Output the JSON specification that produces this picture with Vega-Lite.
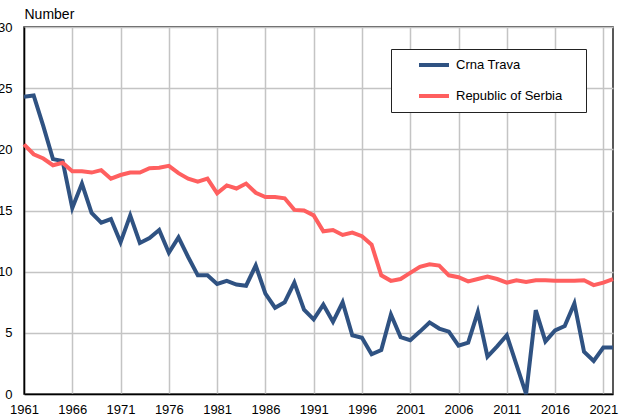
{
  "$schema": "https://vega.github.io/schema/vega-lite/v6.json",
  "width": 589,
  "height": 367,
  "autosize": {"type": "none"},
  "padding": {"left": 24, "top": 27, "right": 10, "bottom": 23},
  "background": "white",
  "config": {
    "font": "Liberation Sans",
    "view": {"stroke": "#222", "strokeWidth": 1.5},
    "axis": {"labelFont": "Liberation Sans", "titleFont": "Liberation Sans", "labelColor": "#000", "titleColor": "#000", "gridColor": "#c4c4c4", "gridWidth": 1.5, "domainColor": "#000", "domainWidth": 1.5, "ticks": false}
  },
  "data": {
    "values": [
      {"year": 1961, "series": "Crna Trava", "value": 24.3},
      {"year": 1962, "series": "Crna Trava", "value": 24.4},
      {"year": 1963, "series": "Crna Trava", "value": 21.9},
      {"year": 1964, "series": "Crna Trava", "value": 19.2},
      {"year": 1965, "series": "Crna Trava", "value": 19.05},
      {"year": 1966, "series": "Crna Trava", "value": 15.2},
      {"year": 1967, "series": "Crna Trava", "value": 17.2},
      {"year": 1968, "series": "Crna Trava", "value": 14.8},
      {"year": 1969, "series": "Crna Trava", "value": 14.0},
      {"year": 1970, "series": "Crna Trava", "value": 14.3},
      {"year": 1971, "series": "Crna Trava", "value": 12.4},
      {"year": 1972, "series": "Crna Trava", "value": 14.6},
      {"year": 1973, "series": "Crna Trava", "value": 12.35},
      {"year": 1974, "series": "Crna Trava", "value": 12.75},
      {"year": 1975, "series": "Crna Trava", "value": 13.4},
      {"year": 1976, "series": "Crna Trava", "value": 11.55},
      {"year": 1977, "series": "Crna Trava", "value": 12.8},
      {"year": 1978, "series": "Crna Trava", "value": 11.2},
      {"year": 1979, "series": "Crna Trava", "value": 9.7},
      {"year": 1980, "series": "Crna Trava", "value": 9.7},
      {"year": 1981, "series": "Crna Trava", "value": 9.0},
      {"year": 1982, "series": "Crna Trava", "value": 9.25},
      {"year": 1983, "series": "Crna Trava", "value": 8.95},
      {"year": 1984, "series": "Crna Trava", "value": 8.85},
      {"year": 1985, "series": "Crna Trava", "value": 10.5},
      {"year": 1986, "series": "Crna Trava", "value": 8.2},
      {"year": 1987, "series": "Crna Trava", "value": 7.05},
      {"year": 1988, "series": "Crna Trava", "value": 7.5},
      {"year": 1989, "series": "Crna Trava", "value": 9.1},
      {"year": 1990, "series": "Crna Trava", "value": 6.9},
      {"year": 1991, "series": "Crna Trava", "value": 6.1},
      {"year": 1992, "series": "Crna Trava", "value": 7.3},
      {"year": 1993, "series": "Crna Trava", "value": 5.9},
      {"year": 1994, "series": "Crna Trava", "value": 7.5},
      {"year": 1995, "series": "Crna Trava", "value": 4.8},
      {"year": 1996, "series": "Crna Trava", "value": 4.6},
      {"year": 1997, "series": "Crna Trava", "value": 3.25},
      {"year": 1998, "series": "Crna Trava", "value": 3.6},
      {"year": 1999, "series": "Crna Trava", "value": 6.5},
      {"year": 2000, "series": "Crna Trava", "value": 4.65},
      {"year": 2001, "series": "Crna Trava", "value": 4.4},
      {"year": 2002, "series": "Crna Trava", "value": 5.1},
      {"year": 2003, "series": "Crna Trava", "value": 5.85},
      {"year": 2004, "series": "Crna Trava", "value": 5.35},
      {"year": 2005, "series": "Crna Trava", "value": 5.1},
      {"year": 2006, "series": "Crna Trava", "value": 3.95},
      {"year": 2007, "series": "Crna Trava", "value": 4.2},
      {"year": 2008, "series": "Crna Trava", "value": 6.7},
      {"year": 2009, "series": "Crna Trava", "value": 3.05},
      {"year": 2010, "series": "Crna Trava", "value": 3.9},
      {"year": 2011, "series": "Crna Trava", "value": 4.8},
      {"year": 2012, "series": "Crna Trava", "value": 2.4},
      {"year": 2013, "series": "Crna Trava", "value": 0},
      {"year": 2014, "series": "Crna Trava", "value": 6.85},
      {"year": 2015, "series": "Crna Trava", "value": 4.3},
      {"year": 2016, "series": "Crna Trava", "value": 5.2},
      {"year": 2017, "series": "Crna Trava", "value": 5.55},
      {"year": 2018, "series": "Crna Trava", "value": 7.4},
      {"year": 2019, "series": "Crna Trava", "value": 3.45},
      {"year": 2020, "series": "Crna Trava", "value": 2.7},
      {"year": 2021, "series": "Crna Trava", "value": 3.8},
      {"year": 2022, "series": "Crna Trava", "value": 3.8},
      {"year": 1961, "series": "Republic of Serbia", "value": 20.4},
      {"year": 1962, "series": "Republic of Serbia", "value": 19.6},
      {"year": 1963, "series": "Republic of Serbia", "value": 19.25},
      {"year": 1964, "series": "Republic of Serbia", "value": 18.7},
      {"year": 1965, "series": "Republic of Serbia", "value": 18.9},
      {"year": 1966, "series": "Republic of Serbia", "value": 18.2},
      {"year": 1967, "series": "Republic of Serbia", "value": 18.2},
      {"year": 1968, "series": "Republic of Serbia", "value": 18.1},
      {"year": 1969, "series": "Republic of Serbia", "value": 18.3},
      {"year": 1970, "series": "Republic of Serbia", "value": 17.6},
      {"year": 1971, "series": "Republic of Serbia", "value": 17.9},
      {"year": 1972, "series": "Republic of Serbia", "value": 18.1},
      {"year": 1973, "series": "Republic of Serbia", "value": 18.1},
      {"year": 1974, "series": "Republic of Serbia", "value": 18.45},
      {"year": 1975, "series": "Republic of Serbia", "value": 18.5},
      {"year": 1976, "series": "Republic of Serbia", "value": 18.65},
      {"year": 1977, "series": "Republic of Serbia", "value": 18.05},
      {"year": 1978, "series": "Republic of Serbia", "value": 17.6},
      {"year": 1979, "series": "Republic of Serbia", "value": 17.35},
      {"year": 1980, "series": "Republic of Serbia", "value": 17.6},
      {"year": 1981, "series": "Republic of Serbia", "value": 16.4},
      {"year": 1982, "series": "Republic of Serbia", "value": 17.05},
      {"year": 1983, "series": "Republic of Serbia", "value": 16.8},
      {"year": 1984, "series": "Republic of Serbia", "value": 17.2},
      {"year": 1985, "series": "Republic of Serbia", "value": 16.45},
      {"year": 1986, "series": "Republic of Serbia", "value": 16.1},
      {"year": 1987, "series": "Republic of Serbia", "value": 16.1},
      {"year": 1988, "series": "Republic of Serbia", "value": 16.0},
      {"year": 1989, "series": "Republic of Serbia", "value": 15.05},
      {"year": 1990, "series": "Republic of Serbia", "value": 15.0},
      {"year": 1991, "series": "Republic of Serbia", "value": 14.6},
      {"year": 1992, "series": "Republic of Serbia", "value": 13.3},
      {"year": 1993, "series": "Republic of Serbia", "value": 13.4},
      {"year": 1994, "series": "Republic of Serbia", "value": 13.0},
      {"year": 1995, "series": "Republic of Serbia", "value": 13.2},
      {"year": 1996, "series": "Republic of Serbia", "value": 12.9},
      {"year": 1997, "series": "Republic of Serbia", "value": 12.2},
      {"year": 1998, "series": "Republic of Serbia", "value": 9.7},
      {"year": 1999, "series": "Republic of Serbia", "value": 9.25},
      {"year": 2000, "series": "Republic of Serbia", "value": 9.4},
      {"year": 2001, "series": "Republic of Serbia", "value": 9.9},
      {"year": 2002, "series": "Republic of Serbia", "value": 10.4},
      {"year": 2003, "series": "Republic of Serbia", "value": 10.6},
      {"year": 2004, "series": "Republic of Serbia", "value": 10.5},
      {"year": 2005, "series": "Republic of Serbia", "value": 9.7},
      {"year": 2006, "series": "Republic of Serbia", "value": 9.55},
      {"year": 2007, "series": "Republic of Serbia", "value": 9.2},
      {"year": 2008, "series": "Republic of Serbia", "value": 9.4},
      {"year": 2009, "series": "Republic of Serbia", "value": 9.6},
      {"year": 2010, "series": "Republic of Serbia", "value": 9.4},
      {"year": 2011, "series": "Republic of Serbia", "value": 9.1},
      {"year": 2012, "series": "Republic of Serbia", "value": 9.3},
      {"year": 2013, "series": "Republic of Serbia", "value": 9.15},
      {"year": 2014, "series": "Republic of Serbia", "value": 9.3},
      {"year": 2015, "series": "Republic of Serbia", "value": 9.3},
      {"year": 2016, "series": "Republic of Serbia", "value": 9.25},
      {"year": 2017, "series": "Republic of Serbia", "value": 9.25},
      {"year": 2018, "series": "Republic of Serbia", "value": 9.25},
      {"year": 2019, "series": "Republic of Serbia", "value": 9.3},
      {"year": 2020, "series": "Republic of Serbia", "value": 8.9},
      {"year": 2021, "series": "Republic of Serbia", "value": 9.1},
      {"year": 2022, "series": "Republic of Serbia", "value": 9.4}
    ]
  },
  "mark": {"type": "line", "strokeWidth": 4, "strokeJoin": "miter", "clip": false},
  "encoding": {
    "x": {
      "field": "year", "type": "quantitative",
      "scale": {"domain": [1961, 2022], "nice": false, "zero": false},
      "axis": {"title": null, "values": [1961, 1966, 1971, 1976, 1981, 1986, 1991, 1996, 2001, 2006, 2011, 2016, 2021], "format": "d", "labelFontSize": 13, "labelPadding": 9, "labelFlush": false, "labelOverlap": false}
    },
    "y": {
      "field": "value", "type": "quantitative",
      "scale": {"domain": [0, 30], "nice": false},
      "axis": {"title": "Number", "titleAngle": 0, "titleAlign": "left", "titleBaseline": "alphabetic", "titleX": 0, "titleY": -9, "titleFontSize": 14, "titleFontWeight": "normal", "values": [0, 5, 10, 15, 20, 25, 30], "labelFontSize": 13, "labelPadding": 12}
    },
    "color": {
      "field": "series", "type": "nominal",
      "scale": {"domain": ["Crna Trava", "Republic of Serbia"], "range": ["#2f5282", "#ff5f5f"]},
      "legend": {"title": "\u00a0", "titleOrient": "right", "titlePadding": 15, "titleFontSize": 13, "orient": "none", "legendX": 367, "legendY": 22, "fillColor": "white", "strokeColor": "#222", "padding": 8.5, "symbolOffset": 17.5, "symbolType": "stroke", "symbolSize": 900, "symbolStrokeWidth": 4, "clipHeight": 15, "labelFontSize": 13, "labelOffset": 5, "rowPadding": 16, "labelColor": "#000"}
    }
  }
}
